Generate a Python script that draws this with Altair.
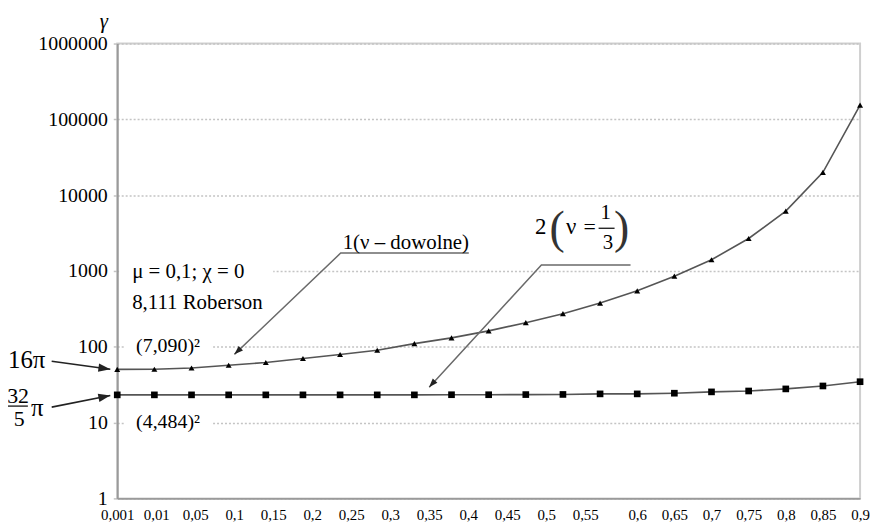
import json
import altair as alt
import pandas as pd

# ---- data ----
x_labels = ["0,001", "0,01", "0,05", "0,1", "0,15", "0,2", "0,25", "0,3", "0,35", "0,4",
            "0,45", "0,5", "0,55", "0,6", "0,65", "0,7", "0,75", "0,8", "0,85", "0,9"]
label_pos = [0, 1.05, 2.1, 3.15, 4.2, 5.25, 6.3, 7.35, 8.4, 9.45,
             10.5, 11.55, 12.6, 14, 15, 16, 17, 18, 19, 20]
point_idx = [0, 1, 2, 3, 4, 5, 6, 7, 8, 9, 10, 11, 12, 13, 14, 15, 16, 17, 18, 19, 20]
tri_vals = [50.3, 50.5, 52.5, 57, 62, 70, 79, 90, 110, 131, 162, 208, 273, 377,
            547, 853, 1406, 2680, 6160, 20000, 154000]
sq_vals = [23.2, 23.2, 23.2, 23.2, 23.2, 23.2, 23.2, 23.2, 23.2, 23.3, 23.3, 23.4, 23.5,
           23.9, 23.9, 24.4, 25.4, 26.1, 27.8, 30.4, 34.6]
y_ticks = [1, 10, 100, 1000, 10000, 100000, 1000000]

FONT = "'Liberation Serif', 'DejaVu Serif', 'Times New Roman', serif"

# annotation anchors (data coordinates: category index, value)
ann_left = pd.DataFrame({
    "x": [0.401, 0.401, 0.508, 0.508, -2.94, 6.07],
    "y": [970, 381, 101, 10.2, 66.2, 2328],
    "t": ["μ = 0,1; χ = 0", "8,111 Roberson", "(7,090)²", "(4,484)²", "16π", "1(ν – dowolne)"],
    "fs": [21, 21, 20, 20, 25, 21],
})
ann_center = pd.DataFrame({
    "x": [-2.67, -2.64, -2.152, 11.40, 11.84, 12.22, 12.72, 13.15, 13.21, 13.58],
    "y": [22.4, 11.2, 15.6, 3775, 3550, 3775, 3775, 5754, 2328, 3550],
    "t": ["32", "5", "π", "2", "(", "ν", "=", "1", "3", ")"],
    "fs": [22, 22, 25, 23, 46, 23, 22, 21, 21, 46],
    "c": ["black", "black", "black", "black", "#333333", "black", "black", "black", "black", "#333333"],
})
frac_bars = pd.DataFrame({
    "x": [-2.968, 12.96],
    "x2": [-2.406, 13.39],
    "y": [16.5, 3660],
})
masks = pd.DataFrame({
    "x": [0.05, 0.21, 0.21],
    "x2": [4.2, 2.54, 2.54],
    "y": [1480, 124.8, 12.6],
    "y2": [257.6, 79.4, 8.26],
})
arrow_lines = pd.DataFrame({
    "g": ["a1", "a1", "a2", "a2", "l1", "l1", "l1", "l2", "l2", "l2"],
    "o": [0, 1, 0, 1, 0, 1, 2, 0, 1, 2],
    "x": [-1.765, -0.187, -1.765, -0.187, 9.465, 6.016, 3.155, 13.82, 11.42, 8.40],
    "y": [64.3, 50.5, 16.0, 22.7, 1722, 1722, 79.4, 1199, 1199, 29.3],
})
arrow_heads = pd.DataFrame({
    "x": [-0.345, -0.345, 3.24, 8.476],
    "y": [51.7, 21.9, 87.2, 32.4],
    "ang": [97.9, 78.8, 226.4, 222.6],
    "sz": [144, 144, 81, 81],
})

series = pd.DataFrame({
    "x": point_idx + point_idx,
    "y": tri_vals + sq_vals,
    "s": ["1"] * len(point_idx) + ["2"] * len(point_idx),
})

label_expr = "{}[indexof({}, datum.value)]".format(
    json.dumps(x_labels, ensure_ascii=False), json.dumps(label_pos))

X = alt.X("x:Q",
          scale=alt.Scale(domain=[0, 20], nice=False, zero=False),
          axis=alt.Axis(values=label_pos, labelExpr=label_expr, grid=False, ticks=False,
                        domainColor="#9a9a9a", domainWidth=2, labelFont=FONT,
                        labelFontSize=15, labelColor="black", labelPadding=9,
                        labelAngle=0, labelOverlap=False, labelFlush=False,
                        labelBound=False, title=None))
Y = alt.Y("y:Q",
          scale=alt.Scale(type="log", domain=[1, 1000000], nice=False),
          axis=alt.Axis(values=y_ticks, format="d", grid=True, gridColor="#c4c4c4",
                        gridDash=[2, 2], gridWidth=1.5, domainColor="#9a9a9a",
                        domainWidth=2, tickColor="#c4c4c4", tickSize=4, tickWidth=1.5,
                        labelFont=FONT, labelFontSize=20, labelColor="black",
                        labelPadding=6, title="γ", titleAngle=0, titleX=-14,
                        titleY=-16, titleAlign="center", titleBaseline="alphabetic",
                        titleFont=FONT, titleFontSize=21, titleFontStyle="italic",
                        titleFontWeight="normal", titleColor="black"))

mask_layer = alt.Chart(masks).mark_rect(color="white").encode(
    x=X, x2="x2:Q", y=Y, y2="y2:Q")

lines = alt.Chart(series).mark_line(color="#555555", strokeWidth=1.6).encode(
    x=X, y=Y, detail="s:N")

tri_pts = alt.Chart(series).transform_filter(alt.datum.s == "1").mark_point(
    shape="triangle-up", filled=True, color="black", opacity=1, size=36).encode(x=X, y=Y)
sq_pts = alt.Chart(series).transform_filter(alt.datum.s == "2").mark_point(
    shape="square", filled=True, color="black", opacity=1, size=45).encode(x=X, y=Y)

arr_black = alt.Chart(arrow_lines).transform_filter(
    "datum.g == 'a1' || datum.g == 'a2'").mark_line(color="#222222", strokeWidth=1.6).encode(
    x=X, y=Y, detail="g:N", order="o:Q")
arr_gray = alt.Chart(arrow_lines).transform_filter(
    "datum.g == 'l1' || datum.g == 'l2'").mark_line(color="#6a6a6a", strokeWidth=1.5).encode(
    x=X, y=Y, detail="g:N", order="o:Q")
arr_h = alt.Chart(arrow_heads).mark_point(
    shape="M0,-1L0.7,1L-0.7,1Z", filled=True, color="#222222", opacity=1).encode(
    x=X, y=Y, angle=alt.Angle("ang:Q", scale=None), size=alt.Size("sz:Q", scale=None))

bars = alt.Chart(frac_bars).mark_rule(color="black", strokeWidth=1.2).encode(
    x=X, x2="x2:Q", y=Y)

txt_l = alt.Chart(ann_left).mark_text(font=FONT, align="left", baseline="middle",
                                      color="black").encode(
    x=X, y=Y, text="t:N", size=alt.Size("fs:Q", scale=None))
txt_c = alt.Chart(ann_center).mark_text(font=FONT, align="center", baseline="middle").encode(
    x=X, y=Y, text="t:N", size=alt.Size("fs:Q", scale=None),
    color=alt.Color("c:N", scale=None))

chart = alt.layer(mask_layer, lines, tri_pts, sq_pts, arr_black, arr_gray, arr_h, bars,
                  txt_l, txt_c).properties(
    width=748, height=458,
    padding={"left": 110, "top": 34, "right": 10, "bottom": 23},
    autosize=alt.AutoSizeParams(type="none"),
    background="white",
).configure_view(stroke="#cfcfcf", strokeWidth=2)

chart.save("out.html", embed_options={"renderer": "svg", "actions": False})
